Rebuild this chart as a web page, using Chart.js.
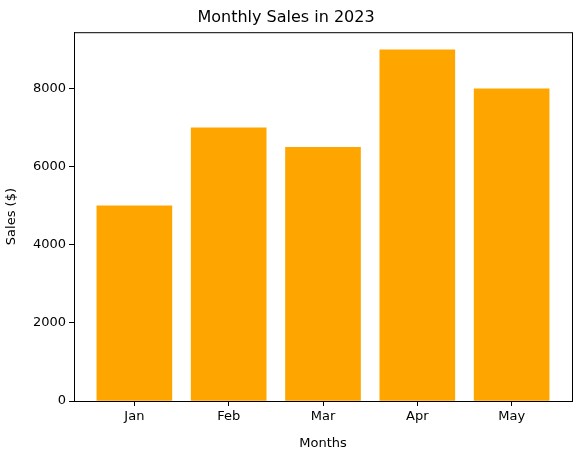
<!DOCTYPE html>
<html>
<head>
<meta charset="utf-8">
<script src="https://cdn.jsdelivr.net/npm/chart.js@4"></script>
<style>
  html, body { margin: 0; padding: 0; background: #fff; }
  #wrap { width: 580px; height: 455px; }
</style>
</head>
<body>
<div id="wrap"><canvas id="chart" width="580" height="455"></canvas></div>
<script>
// --- DATA ---
const months = ["Jan", "Feb", "Mar", "Apr", "May"];
const sales = [5000, 7000, 6500, 9000, 8000];
const yTicks = [0, 2000, 4000, 6000, 8000];

Chart.defaults.font.family = "'DejaVu Sans', sans-serif";
Chart.defaults.color = "#000";

// frame around the plot area, like matplotlib spines
const frame = {
  id: "frame",
  afterDraw(chart) {
    const { ctx, chartArea: a } = chart;
    ctx.save();
    ctx.strokeStyle = "#000";
    ctx.lineWidth = 1;
    ctx.strokeRect(a.left + 0.5, a.top + 0.5, a.right - a.left, a.bottom - a.top);
    ctx.restore();
  }
};

new Chart(document.getElementById("chart"), {
  type: "bar",
  data: {
    datasets: [{
      data: sales.map((v, i) => ({ x: i, y: v })),
      backgroundColor: "#ffa500",
      barThickness: 75
    }]
  },
  options: {
    responsive: false,
    animation: false,
    layout: { padding: { left: 0, right: 8, top: 0, bottom: 0 } },
    plugins: {
      legend: { display: false },
      tooltip: { enabled: false },
      title: {
        display: true,
        text: "Monthly Sales in 2023",
        font: { size: 16, weight: "normal" },
        padding: { top: 8, bottom: 5 }
      }
    },
    scales: {
      x: {
        type: "linear",
        offset: false,
        min: -0.64,
        max: 4.64,
        afterBuildTicks: (s) => { s.ticks = months.map((_, i) => ({ value: i })); },
        afterFit: (s) => { s.height = 54; },
        ticks: { callback: (v) => months[v], font: { size: 13 }, maxRotation: 0 },
        grid: { drawOnChartArea: false, offset: false, color: "#000", tickLength: 5 },
        border: { color: "#000" },
        title: { display: true, text: "Months", font: { size: 13 }, padding: { top: 2 } }
      },
      y: {
        min: 0,
        max: 9450,
        afterBuildTicks: (s) => { s.ticks = yTicks.map(v => ({ value: v })); },
        afterFit: (s) => { s.width = 74; },
        ticks: { font: { size: 13 }, callback: (v) => String(v) },
        grid: { drawOnChartArea: false, color: "#000", tickLength: 5 },
        border: { color: "#000" },
        title: { display: true, text: "Sales ($)", font: { size: 13 } }
      }
    }
  },
  plugins: [frame]
});
</script>
</body>
</html>
